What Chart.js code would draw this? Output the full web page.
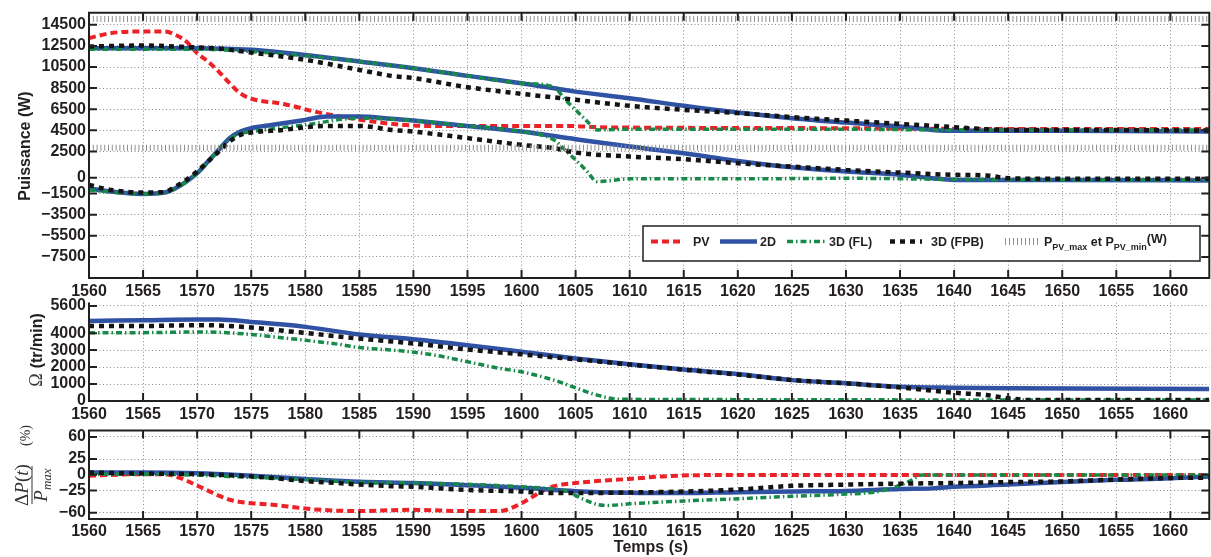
<!DOCTYPE html>
<html>
<head>
<meta charset="utf-8">
<script src="https://cdn.jsdelivr.net/npm/chart.js@4.4.1/dist/chart.umd.min.js"></script>
<style>
html,body{margin:0;padding:0;background:#fff;width:1211px;height:557px;overflow:hidden;}
canvas{position:absolute;left:0;}
</style>
</head>
<body>
<canvas id="c1" width="1211" height="305" style="top:0px"></canvas>
<canvas id="c2" width="1211" height="135" style="top:290px"></canvas>
<canvas id="c3" width="1211" height="139" style="top:418px"></canvas>
<script>
// ===================== DATA =====================
const xMin = 1560, xMax = 1663.6;
const xTicks = [1560,1565,1570,1575,1580,1585,1590,1595,1600,1605,1610,1615,1620,1625,1630,1635,1640,1645,1650,1655,1660];

const seriesNames = ['PV', '2D', '3D (FL)', '3D (FPB)'];

// --- Puissance (W) ---
const pTicks = [14500,12500,10500,8500,6500,4500,2500,0,-1500,-3500,-5500,-7500];
const pTickLabels = ['14500','12500','10500','8500','6500','4500','2500','0','\u22121500','\u22123500','\u22125500','\u22127500'];

const tPV = [1560,1562,1565,1567,1568,1569,1570,1571,1572,1573,1574,1575,1578,1581,1584,1588,1591,1595,1600,1605,1607,1610,1620,1630,1640,1650,1663.6];
const pPV = [13240,13710,13870,13870,13550,12920,11810,11020,10070,8970,8000,7500,7000,6250,5680,5110,4920,4920,4920,4900,4800,4760,4720,4700,4640,4620,4620];

const t2DHi = [1560,1565,1570,1575,1580,1585,1590,1595,1600,1605,1610,1615,1620,1625,1630,1635,1638,1640,1650,1663.6];
const p2DHi = [12290,12290,12290,12130,11650,11020,10390,9660,8970,8170,7550,6820,6180,5650,5230,4860,4540,4450,4450,4380];

const t2DLo = [1560,1562,1565,1567,1568,1569,1570,1571,1572,1573,1574,1575,1577,1580,1582,1585,1588,1590,1595,1600,1605,1610,1615,1620,1625,1630,1635,1638,1640,1650,1663.6];
const p2DLo = [-990,-1310,-1530,-1400,-990,-360,440,1540,2650,3760,4380,4700,5020,5490,5800,5800,5590,5420,4920,4380,3660,2960,2330,1600,1000,600,280,-40,-200,-200,-260];

const tFLHi = [1560,1565,1570,1575,1580,1585,1590,1595,1600,1603,1604,1605,1606,1607,1610,1620,1630,1640,1650,1663.6];
const pFLHi = [12190,12190,12190,11970,11560,11020,10390,9660,8970,8590,7450,6440,5420,4540,4610,4610,4600,4540,4540,4540];

const tFLLo = [1560,1562,1565,1567,1568,1569,1570,1571,1572,1573,1574,1575,1580,1585,1590,1595,1600,1603,1604,1605,1606,1607,1610,1620,1630,1640,1650,1663.6];
const pFLLo = [-1150,-1350,-1530,-1420,-1000,-380,420,1500,2600,3650,4200,4380,5020,5650,5420,4920,4380,3590,2650,1700,680,-360,-100,-100,-50,-150,-200,-200];

const tFPBHi = [1560,1565,1570,1572,1575,1580,1585,1588,1590,1595,1600,1605,1610,1615,1620,1625,1630,1635,1640,1643,1645,1650,1663.6];
const pFPBHi = [12440,12540,12350,12250,11870,11180,10230,9660,9450,8590,7960,7390,6820,6440,6130,5750,5420,5110,4800,4600,4540,4540,4480];

const tFPBLo = [1560,1562,1565,1567,1568,1569,1570,1571,1572,1573,1574,1575,1578,1580,1582,1585,1588,1590,1595,1600,1603,1605,1610,1615,1620,1625,1630,1635,1640,1643,1645,1650,1663.6];
const pFPBLo = [-670,-1150,-1400,-1350,-830,-200,590,1540,2480,3430,4070,4290,4540,4800,4920,4920,4540,4380,3760,3120,2810,2390,2010,1760,1380,1060,750,490,280,220,-40,-100,-100];

const tPVlim = [1560, 1663.6];
const pPVmax = [15050, 15050];
const pPVmin = [2850, 2850];

// --- Omega (tr/min) ---
const wTicks = [0,1000,2000,3000,4000,5600];
const wTickLabels = ['0','1000','2000','3000','4000','5600'];

const tW2D = [1560,1565,1570,1572,1575,1580,1585,1590,1595,1600,1605,1610,1615,1620,1625,1630,1635,1640,1645,1663.6];
const w2D = [4720,4760,4800,4800,4660,4370,3920,3640,3290,2900,2510,2170,1860,1590,1230,1040,840,780,750,700];

const tWFL = [1560,1565,1570,1572,1575,1578,1580,1583,1585,1589,1592,1595,1598,1600,1603,1605,1607,1609,1663.6];
const wFL = [4030,4030,4070,4050,3920,3720,3580,3350,3150,2950,2700,2310,1920,1720,1230,780,350,100,60];

const tWFPB = [1560,1565,1570,1572,1575,1580,1585,1590,1595,1600,1605,1610,1615,1620,1625,1630,1635,1640,1643,1645,1647,1663.6];
const wFPB = [4420,4420,4470,4450,4330,4010,3680,3390,3040,2750,2460,2150,1850,1560,1240,1040,800,490,350,160,60,60];

// --- DeltaP / Pmax (%) ---
const dTicks = [60,25,0,-25,-60];
const dTickLabels = ['60','25','0','\u221225','\u221260'];

const tDPV = [1560,1565,1567,1568,1569,1570,1571,1572,1573,1574,1575,1577,1579,1581,1585,1588,1590,1595,1598,1599,1600,1601,1602,1603,1605,1607,1610,1613,1617,1663.6];
const dPV = [-1.5,1,1,-2.5,-9,-17,-25,-33,-39.5,-43,-45,-47.5,-51.5,-55,-57.5,-56,-55.5,-57.5,-57.5,-53,-45,-35,-25,-18,-13,-10,-6.5,-2.5,-0.5,-0.5];

const tD2D = [1560,1565,1570,1575,1580,1585,1590,1595,1600,1605,1610,1615,1620,1625,1630,1635,1638,1640,1645,1650,1655,1660,1663.6];
const d2D = [3.5,3.5,2.5,-1.5,-6.5,-11,-13,-16.5,-20.5,-26,-28.5,-29,-27.5,-26.5,-25.5,-22.5,-21.5,-19,-15.5,-11.5,-8,-5.5,-2.5];

const tDFL = [1560,1565,1570,1575,1580,1585,1590,1595,1600,1603,1604,1605.5,1607,1608,1610,1615,1620,1625,1630,1633,1635,1636,1637,1663.6];
const dFL = [1,1,-0.5,-4,-7.5,-12,-13,-15,-19,-22.5,-25,-37,-47,-48.5,-46,-41.5,-38,-34,-30.5,-26.5,-16.5,-9,-0.5,-0.5];

const tDFPB = [1560,1565,1570,1575,1578,1580,1583,1585,1588,1590,1595,1600,1603,1605,1610,1615,1620,1625,1630,1635,1640,1645,1650,1655,1660,1663.6];
const dFPB = [3.5,2,1,-2.5,-6.5,-10,-13,-15.5,-18,-19,-24,-26.5,-29,-29,-28,-26.5,-23.5,-17.5,-15.5,-14,-13,-11.5,-10.5,-7.5,-5,-4.5];

// ===================== STYLE =====================
const FONT = '"Liberation Sans", Arial, Helvetica, sans-serif';
const SERIF = '"Liberation Serif", "DejaVu Serif", "Times New Roman", serif';
const INK = '#231f20';
const GRID = '#8a8a8a';
const sty = {
  PV:  {color:'#ec2227', width:4,   dash:[7,4]},
  D2:  {color:'#3052a4', width:4.5, dash:[]},
  FL:  {color:'#178a4a', width:3.5, dash:[6,3,1.5,3]},
  FPB: {color:'#141414', width:4.5, dash:[5,5]},
  LIM: {color:'#8f8f8f', width:6,   dash:[1,2.8]}
};

const pts = (t, v) => t.map((x, i) => ({x: x, y: v[i]}));
function line(t, v, s, order) {
  return {data: pts(t, v), borderColor: s.color, borderWidth: s.width, borderDash: s.dash,
    pointRadius: 0, pointHoverRadius: 0, fill: false, cubicInterpolationMode: 'monotone', order: order};
}

function xScale(h, pad) {
  return {
    type: 'linear', position: 'bottom', min: xMin, max: xMax,
    afterBuildTicks: s => { s.ticks = xTicks.map(v => ({value: v})); },
    afterFit: s => { s.height = h; },
    grid: {color: GRID, lineWidth: 1, drawTicks: false},
    border: {display: false, dash: [1, 2.5]},
    ticks: {padding: pad, maxRotation: 0, minRotation: 0, autoSkip: false, color: INK,
      font: {family: FONT, size: 16, weight: 'bold'}, callback: v => String(v)}
  };
}
function yScale(min, max, ticks, labels) {
  return {
    type: 'linear', position: 'left', min: min, max: max,
    afterBuildTicks: s => { s.ticks = ticks.map(v => ({value: v})); },
    afterFit: s => { s.width = 89; },
    grid: {color: GRID, lineWidth: 1, drawTicks: false},
    border: {display: false, dash: [1, 2.5]},
    ticks: {padding: 3, autoSkip: false, color: INK,
      font: {family: FONT, size: 16, weight: 'bold'},
      callback: v => labels[ticks.indexOf(v)]}
  };
}

const framePlugin = {
  id: 'frame',
  afterDraw(chart, args, opts) {
    const ctx = chart.ctx, a = chart.chartArea;
    const xs = chart.scales.x, ys = chart.scales.y;
    ctx.save();
    ctx.strokeStyle = INK; ctx.lineWidth = 2; ctx.setLineDash([]);
    ctx.beginPath();
    if (opts.box) {
      ctx.rect(a.left, a.top, a.right - a.left, a.bottom - a.top);
    } else {
      ctx.moveTo(a.left, a.top); ctx.lineTo(a.left, a.bottom); ctx.lineTo(a.right, a.bottom);
    }
    ctx.stroke();
    const L = 8;
    ctx.beginPath();
    xs.ticks.forEach(t => {
      const p = xs.getPixelForValue(t.value);
      ctx.moveTo(p, a.bottom); ctx.lineTo(p, a.bottom - L);
      if (opts.box) { ctx.moveTo(p, a.top); ctx.lineTo(p, a.top + L); }
    });
    ys.ticks.forEach(t => {
      const p = ys.getPixelForValue(t.value);
      ctx.moveTo(a.left, p); ctx.lineTo(a.left + L, p);
      if (opts.box) { ctx.moveTo(a.right, p); ctx.lineTo(a.right - L, p); }
    });
    ctx.stroke();
    ctx.restore();
  }
};

function baseOptions(padTop, box, xs, ys) {
  return {
    responsive: false, animation: false, events: [],
    layout: {padding: {top: padTop, right: 1.7, bottom: 0, left: 0}},
    scales: {x: xs, y: ys},
    plugins: {legend: {display: false}, tooltip: {enabled: false}, frame: {box: box}}
  };
}

// ----- legend of the top chart -----
function drawLegend(ctx) {
  ctx.save();
  ctx.fillStyle = '#fff';
  ctx.fillRect(643, 226, 557, 35);
  ctx.strokeStyle = INK; ctx.lineWidth = 1.5; ctx.setLineDash([]);
  ctx.strokeRect(643, 226, 557, 35);
  const yc = 241.5;
  const sample = (x1, x2, s) => {
    ctx.save();
    ctx.strokeStyle = s.color; ctx.lineWidth = s.width; ctx.setLineDash(s.dash);
    ctx.beginPath(); ctx.moveTo(x1, yc); ctx.lineTo(x2, yc); ctx.stroke();
    ctx.restore();
  };
  sample(651, 684, sty.PV);
  sample(720, 757, sty.D2);
  sample(787, 826, sty.FL);
  sample(890, 922, sty.FPB);
  ctx.save();
  ctx.strokeStyle = sty.LIM.color; ctx.lineWidth = 1;
  ctx.beginPath();
  [1005,1009,1013,1017,1021,1025,1029,1033,1037].forEach(x => { ctx.moveTo(x + 0.5, yc - 3.5); ctx.lineTo(x + 0.5, yc + 3.5); });
  ctx.stroke();
  ctx.restore();

  ctx.fillStyle = INK; ctx.textAlign = 'left'; ctx.textBaseline = 'alphabetic';
  const big = 'bold 12.5px ' + FONT, small = 'bold 9px ' + FONT;
  const base = yc + 4.5;
  ctx.font = big;
  ctx.fillText(seriesNames[0], 693, base);
  ctx.fillText(seriesNames[1], 760, base);
  ctx.fillText(seriesNames[2], 829, base);
  ctx.fillText(seriesNames[3], 931, base);
  let x = 1044;
  const put = (txt, font, dy) => { ctx.font = font; ctx.fillText(txt, x, base + dy); x += ctx.measureText(txt).width; };
  put('P', big, 0);
  put('PV_max', small, 4);
  put(' et P', big, 0);
  put('PV_min', small, 4);
  put('(W)', big, -3);
  ctx.restore();
}

const deco1 = {
  id: 'deco1',
  afterDraw(chart) {
    const ctx = chart.ctx;
    ctx.save();
    ctx.translate(26, 146); ctx.rotate(-Math.PI / 2);
    ctx.font = 'bold 16px ' + FONT; ctx.fillStyle = INK;
    ctx.textAlign = 'center'; ctx.textBaseline = 'middle';
    ctx.fillText('Puissance (W)', 0, 0);
    ctx.restore();
    drawLegend(ctx);
  }
};

const deco2 = {
  id: 'deco2',
  afterDraw(chart) {
    const ctx = chart.ctx;
    ctx.save();
    ctx.translate(36, 60); ctx.rotate(-Math.PI / 2);
    ctx.textBaseline = 'alphabetic'; ctx.textAlign = 'left';
    const fO = '18px ' + SERIF, fR = 'bold 16px ' + FONT;
    ctx.font = fO; const w1 = ctx.measureText('\u03A9').width;
    ctx.font = fR; const w2 = ctx.measureText('(tr/min)').width;
    const gap = 5, total = w1 + gap + w2;
    let x = -total / 2;
    ctx.fillStyle = '#3a3a3a'; ctx.font = fO; ctx.fillText('\u03A9', x, 6);
    ctx.fillStyle = INK; ctx.font = fR; ctx.fillText('(tr/min)', x + w1 + gap, 6);
    ctx.restore();
  }
};

const deco3 = {
  id: 'deco3',
  afterDraw(chart) {
    const ctx = chart.ctx;
    // x title
    ctx.save();
    ctx.font = 'bold 16px ' + FONT; ctx.fillStyle = INK;
    ctx.textAlign = 'center'; ctx.textBaseline = 'middle';
    ctx.fillText('Temps (s)', 651, 130);
    ctx.restore();
    // y title: fraction DeltaP(t)/P_max (%)
    ctx.save();
    ctx.translate(32, 67); ctx.rotate(-Math.PI / 2);
    ctx.fillStyle = '#333'; ctx.strokeStyle = '#333';
    ctx.textBaseline = 'alphabetic'; ctx.textAlign = 'left';
    const up = '19px ' + SERIF, it = 'italic 19px ' + SERIF, sub = 'italic 13px ' + SERIF;
    const parts = [['\u0394', up], ['P', it], ['(', up], ['t', it], [')', up]];
    let w = 0;
    parts.forEach(p => { ctx.font = p[1]; w += ctx.measureText(p[0]).width; });
    let x = -w / 2;
    parts.forEach(p => { ctx.font = p[1]; ctx.fillText(p[0], x, -4.5); x += ctx.measureText(p[0]).width; });
    ctx.lineWidth = 1;
    ctx.beginPath(); ctx.moveTo(-19, 0); ctx.lineTo(19, 0); ctx.stroke();
    ctx.font = it; const wp = ctx.measureText('P').width;
    ctx.font = sub; const wm = ctx.measureText('max').width;
    x = -(wp + wm) / 2;
    ctx.font = it; ctx.fillText('P', x, 15);
    ctx.font = sub; ctx.fillText('max', x + wp, 18.5);
    ctx.font = '14px ' + SERIF; ctx.fillText('(%)', 39, -2);
    ctx.restore();
  }
};

// ===================== CHARTS =====================
new Chart(document.getElementById('c1'), {
  type: 'line',
  data: {datasets: [
    line(tPVlim, pPVmax, sty.LIM, 0),
    line(tPVlim, pPVmin, sty.LIM, 0),
    line(tFPBHi, pFPBHi, sty.FPB, 1),
    line(tFPBLo, pFPBLo, sty.FPB, 1),
    line(tFLHi, pFLHi, sty.FL, 2),
    line(tFLLo, pFLLo, sty.FL, 2),
    line(t2DHi, p2DHi, sty.D2, 3),
    line(t2DLo, p2DLo, sty.D2, 3),
    line(tPV, pPV, sty.PV, 4)
  ]},
  options: baseOptions(12.7, true, xScale(27, 4), yScale(-9500, 15650, pTicks, pTickLabels)),
  plugins: [framePlugin, deco1]
});

new Chart(document.getElementById('c2'), {
  type: 'line',
  data: {datasets: [
    line(tWFPB, wFPB, sty.FPB, 1),
    line(tWFL, wFL, sty.FL, 2),
    line(tW2D, w2D, sty.D2, 3)
  ]},
  options: baseOptions(12.3, false, xScale(24, 4), yScale(0, 5800, wTicks, wTickLabels)),
  plugins: [framePlugin, deco2]
});

new Chart(document.getElementById('c3'), {
  type: 'line',
  data: {datasets: [
    line(tDFPB, dFPB, sty.FPB, 1),
    line(tDFL, dFL, sty.FL, 2),
    line(tD2D, d2D, sty.D2, 3),
    line(tDPV, dPV, sty.PV, 4)
  ]},
  options: baseOptions(7.6, true, xScale(38, 3), yScale(-70, 70, dTicks, dTickLabels)),
  plugins: [framePlugin, deco3]
});
</script>
</body>
</html>
